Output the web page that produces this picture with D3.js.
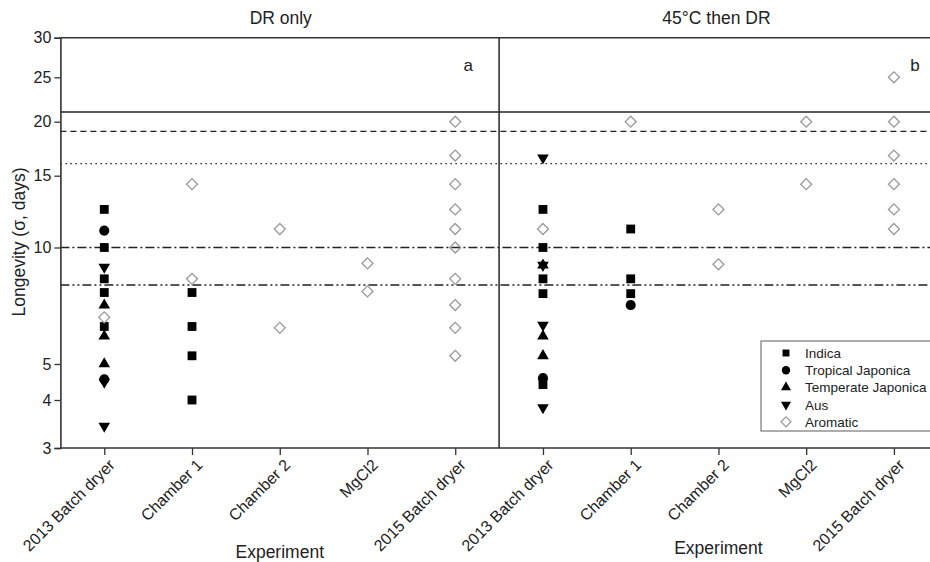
<!DOCTYPE html>
<html><head><meta charset="utf-8">
<script src="https://cdn.jsdelivr.net/npm/d3@7"></script>
<style>body{margin:0;background:#fff}svg{display:block}text{font-family:"Liberation Sans",Arial,sans-serif;fill:#222}</style>
</head><body><svg id="c" width="930" height="562"></svg>
<script>
// ---- data ----
const categories = ["2013 Batch dryer","Chamber 1","Chamber 2","MgCl2","2015 Batch dryer"];
const panels = ["DR only","45\u00B0C then DR"];
const panelTags = ["a","b"];
const yTicks = [3,4,5,10,15,20,25,30];
const refLines = [21,19,16,10,8];
const seriesNames = ["Indica","Tropical Japonica","Temperate Japonica","Aus","Aromatic"];
// [panel, categoryIndex, value]
const indica = [[0,0,12.4],[0,0,10],[0,0,8.3],[0,0,7.65],[0,0,6.25],
  [0,1,7.65],[0,1,6.25],[0,1,5.25],[0,1,4.0],
  [1,0,12.4],[1,0,10],[1,0,8.3],[1,0,7.6],[1,0,4.4],
  [1,1,11.1],[1,1,8.3],[1,1,7.6]];
const tropicalJaponica = [[0,0,11.0],[0,0,4.55],[1,0,4.58],[1,1,7.1]];
const temperateJaponica = [[0,0,7.1],[0,0,5.9],[0,0,5.0],[1,0,9.0],[1,0,5.9],[1,0,5.25]];
const aus = [[0,0,8.9],[0,0,4.47],[0,0,3.42],[1,0,16.5],[1,0,9.0],[1,0,6.3],[1,0,3.82]];
const aromatic = [[0,0,6.6],[0,1,14.3],[0,1,8.3],[0,2,11.1],[0,2,6.2],[0,3,9.1],[0,3,7.7],
  [0,4,20],[0,4,16.7],[0,4,14.3],[0,4,12.4],[0,4,11.1],[0,4,10],[0,4,8.3],[0,4,7.1],[0,4,6.2],[0,4,5.25],
  [1,0,11.1],[1,1,20],[1,2,12.4],[1,2,9.05],[1,3,20],[1,3,14.3],
  [1,4,25],[1,4,20],[1,4,16.7],[1,4,14.3],[1,4,12.4],[1,4,11.1]];

// ---- layout ----
const svg = d3.select("#c");
const nCat = categories.length;
const x = d3.scaleLinear().domain([0.5, 2*nCat+0.5]).range([60.4, 937.8]);
const y = d3.scaleLog().domain(yTicks).range([448,400,364,247.5,175.7,121.7,77.3,37.7]);
const xp = (p,c) => x(p*nCat + c + 1);
const right = 930;

// reference lines
const dashes = [null,"6,4","1.5,3.5","9,3,2,3","9,3,2,3,2,3"];
refLines.forEach((v,i)=>{
  svg.append("line").attr("x1",x(0.5)).attr("x2",right).attr("y1",y(v)).attr("y2",y(v))
    .attr("stroke","#222").attr("stroke-width", i===0?1.6:1.3)
    .attr("stroke-dasharray", dashes[i]);
});

// frame
svg.append("line").attr("x1",x(0.5)).attr("x2",right).attr("y1",y(30)).attr("y2",y(30)).attr("stroke","#333").attr("stroke-width",1.6);
svg.append("line").attr("x1",x(nCat+0.5)).attr("x2",x(nCat+0.5)).attr("y1",y(30)).attr("y2",y(3)).attr("stroke","#333").attr("stroke-width",1.6);

// y axis
const yAxis = svg.append("g").attr("transform",`translate(${x(0.5)},0)`)
  .call(d3.axisLeft(y).tickValues(yTicks).tickFormat(d3.format("d")).tickSize(6).tickPadding(3));
yAxis.select(".domain").attr("stroke","#333").attr("stroke-width",1.6);
yAxis.selectAll(".tick line").attr("stroke","#333").attr("stroke-width",1.3);
yAxis.selectAll(".tick text").attr("font-size",16).attr("fill","#222").style("font-family","Liberation Sans");

// x axis
const xTickVals = d3.range(1, 2*nCat+1);
const xAxis = svg.append("g").attr("transform",`translate(0,${y(3)})`)
  .call(d3.axisBottom(x).tickValues(xTickVals).tickFormat(d=>categories[(d-1)%nCat]).tickSize(7).tickSizeOuter(0));
xAxis.select(".domain").attr("stroke","#333").attr("stroke-width",1.6).attr("d",`M${x(0.5)},0H${right}`);
xAxis.selectAll(".tick line").attr("stroke","#333").attr("stroke-width",1.3);
xAxis.selectAll(".tick text").attr("font-size",16).attr("fill","#222").style("font-family","Liberation Sans")
  .attr("text-anchor","end").attr("dy",0).attr("y",0)
  .attr("transform","translate(11,18) rotate(-45)");

// panel titles & tags
panels.forEach((t,p)=>{
  const cx = (x(p*nCat+0.5)+x(p*nCat+nCat+0.5))/2;
  svg.append("text").attr("x",cx- (p?2:-1)).attr("y",24).attr("text-anchor","middle").attr("font-size",17.5).text(t);
  svg.append("text").attr("x",x(p*nCat+nCat)+13 + (p?8:0)).attr("y",71).attr("text-anchor","middle").attr("font-size",17).text(panelTags[p]);
  svg.append("text").attr("x",cx).attr("y",p?554:558).attr("text-anchor","middle").attr("font-size",17.5).text("Experiment");
});
svg.append("text").attr("transform","translate(25,242) rotate(-90)").attr("text-anchor","middle").attr("font-size",17.5).text("Longevity (\u03C3, days)");

// symbols
const sym = {
  sq: d3.symbol().type(d3.symbolSquare).size(78),
  ci: d3.symbol().type(d3.symbolCircle).size(80),
  tr: d3.symbol().type(d3.symbolTriangle).size(58),
  di: d3.symbol().type(d3.symbolSquare).size(60)
};
const series = [
  {data:indica, path:sym.sq(), rot:0, fill:"#000", stroke:"none"},
  {data:tropicalJaponica, path:sym.ci(), rot:0, fill:"#000", stroke:"none"},
  {data:temperateJaponica, path:sym.tr(), rot:0, fill:"#000", stroke:"none"},
  {data:aus, path:sym.tr(), rot:180, fill:"#000", stroke:"none"},
  {data:aromatic, path:sym.di(), rot:45, fill:"none", stroke:"#999"}
];
series.forEach(s=>{
  svg.append("g").selectAll("path").data(s.data).join("path")
    .attr("d", s.path)
    .attr("transform", d=>`translate(${xp(d[0],d[1])},${y(d[2])}) rotate(${s.rot})`)
    .attr("fill", s.fill).attr("stroke", s.stroke).attr("stroke-width",1.3);
});

// legend
const lg = svg.append("g").attr("transform","translate(761,341)");
lg.append("rect").attr("x",0).attr("y",0).attr("width",200).attr("height",90).attr("fill","#fff").attr("stroke","#777").attr("stroke-width",1.2);
const lsym = [d3.symbol().type(d3.symbolSquare).size(48)(), d3.symbol().type(d3.symbolCircle).size(55)(),
  d3.symbol().type(d3.symbolTriangle).size(44)(), d3.symbol().type(d3.symbolTriangle).size(44)(), d3.symbol().type(d3.symbolSquare).size(50)()];
seriesNames.forEach((n,i)=>{
  const yy = 12 + i*17.2;
  lg.append("path").attr("d",lsym[i]).attr("transform",`translate(25,${yy}) rotate(${series[i].rot})`)
    .attr("fill",series[i].fill).attr("stroke",series[i].stroke).attr("stroke-width",1.2);
  lg.append("text").attr("x",44).attr("y",yy+5).attr("font-size",13.5).text(n);
});
</script></body></html>
